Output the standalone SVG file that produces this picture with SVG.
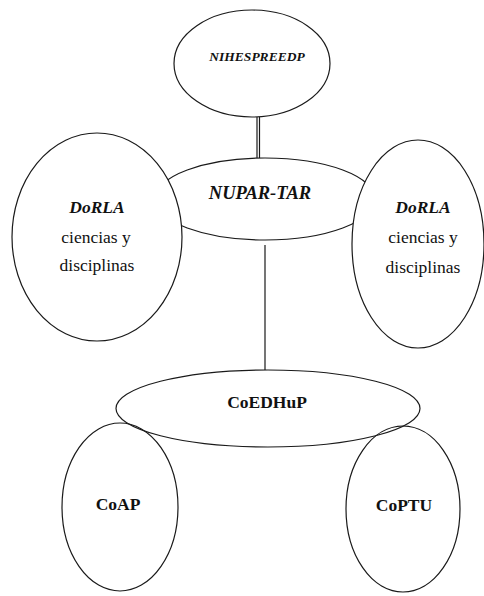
<svg xmlns="http://www.w3.org/2000/svg" width="484" height="596" viewBox="0 0 484 596">
<style>
.n{fill:#fff;stroke:#1a1a1a;stroke-width:1.2}
.o{fill:none;stroke:#1a1a1a;stroke-width:1.2}
.c{stroke:#1a1a1a;stroke-width:1.2;fill:none}
text{font-family:"Liberation Serif","Times New Roman",serif;fill:#111;text-anchor:middle}
.bi{font-weight:bold;font-style:italic}
.b{font-weight:bold}
.t{font-size:17.5px}
</style>
<rect width="484" height="596" fill="#fff"/>
<g id="connectors">
<line class="c" x1="257" y1="117" x2="257" y2="158"/>
<line class="c" x1="259.5" y1="117" x2="259.5" y2="158"/>
<line class="c" x1="265" y1="245" x2="265" y2="370"/>
</g>
<g id="nihespreedp">
<ellipse class="n" cx="252" cy="63.5" rx="78" ry="53.5"/>
<text class="bi" x="257" y="61" font-size="13.5">NIHESPREEDP</text>
</g>
<g id="nupar-tar">
<ellipse class="n" cx="265" cy="199" rx="110" ry="41"/>
<text class="bi" x="260" y="199" font-size="18.5">NUPAR-TAR</text>
</g>
<g id="dorla-left">
<ellipse class="n" cx="97" cy="237" rx="85" ry="104"/>
<text class="bi t" x="97" y="213">DoRLA</text>
<text class="t" x="96" y="243">ciencias y</text>
<text class="t" x="97" y="271">disciplinas</text>
</g>
<g id="dorla-right">
<ellipse class="n" cx="418" cy="244" rx="66" ry="104"/>
<text class="bi t" x="423" y="213">DoRLA</text>
<text class="t" x="423" y="243">ciencias y</text>
<text class="t" x="423" y="273">disciplinas</text>
</g>
<g id="coedhup">
<ellipse class="o" cx="268" cy="408.5" rx="152" ry="38.5"/>
<text class="b t" x="267" y="408">CoEDHuP</text>
</g>
<g id="coap">
<ellipse class="o" cx="120" cy="507" rx="58" ry="84"/>
<text class="b t" x="118" y="510">CoAP</text>
</g>
<g id="coptu">
<ellipse class="o" cx="403" cy="509" rx="57" ry="83"/>
<text class="b t" x="404" y="511">CoPTU</text>
</g>
</svg>
